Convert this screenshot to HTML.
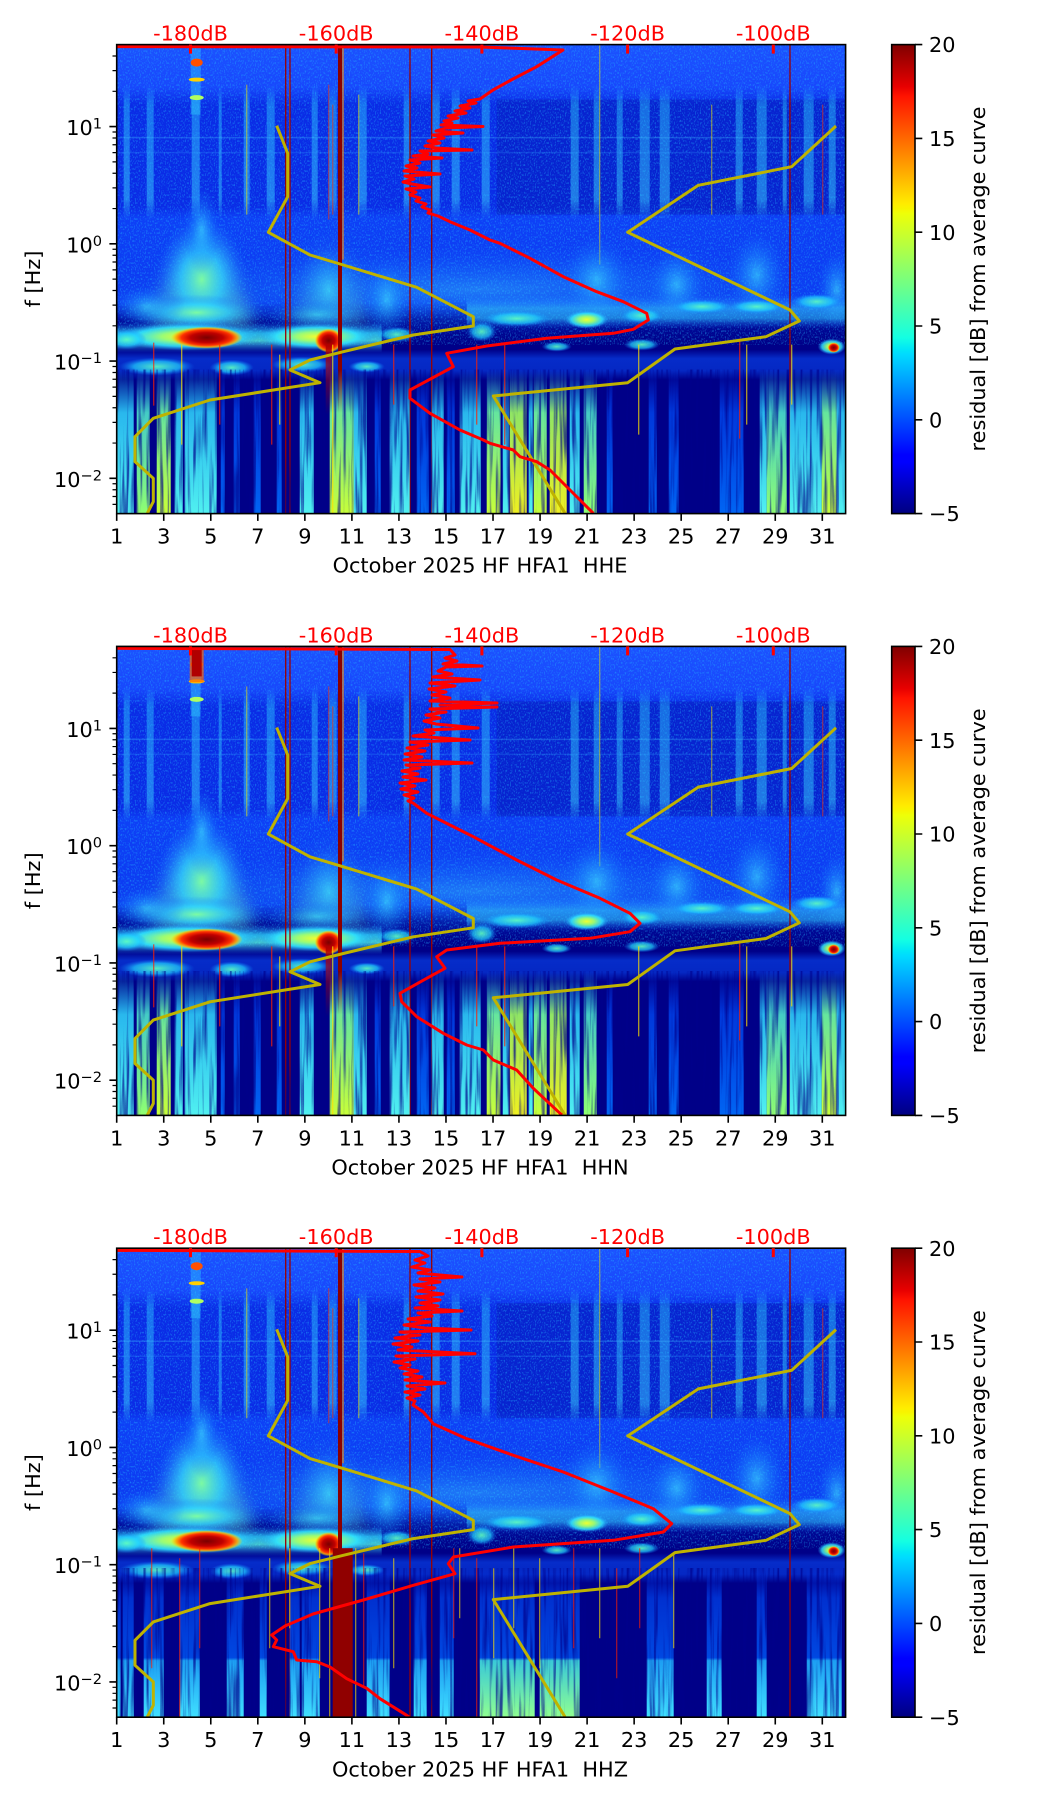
<!DOCTYPE html>
<html><head><meta charset="utf-8">
<style>
html,body{margin:0;padding:0;background:#fff;width:1052px;height:1806px;overflow:hidden}
svg{display:block}
text{font-family:"DejaVu Sans","Liberation Sans",sans-serif;font-size:20.83px;fill:#000}
.rt{fill:#ff0000}
</style></head><body>
<svg xmlns="http://www.w3.org/2000/svg" width="1052" height="1806" viewBox="0 0 1052 1806">
<defs>
<clipPath id="cl"><rect x="0" y="0" width="728.9" height="469"/></clipPath>
<clipPath id="ca"><rect x="116.7" y="44.6" width="728.9" height="469"/></clipPath>

<filter id="nzU" x="0" y="0" width="1" height="1" color-interpolation-filters="sRGB">
<feTurbulence type="fractalNoise" baseFrequency="0.8 0.5" numOctaves="1" seed="5"/>
<feColorMatrix type="matrix" values="0 0 0 0 0.15  0 0 0 0 0.75  0 0 0 0 1  3 0 0 0 -1.5"/>
</filter>
<filter id="nzV" x="0" y="0" width="1" height="1" color-interpolation-filters="sRGB">
<feTurbulence type="fractalNoise" baseFrequency="0.3 0.012" numOctaves="2" seed="9"/>
<feColorMatrix type="matrix" values="0 0 0 0 0  0 0 0 0 0  0 0 0 0 0.55  3.5 0 0 0 -1.65"/>
</filter>
<filter id="bl" x="-50%" y="-50%" width="200%" height="200%"><feGaussianBlur stdDeviation="9"/></filter>

<linearGradient id="gJet" x1="0" y1="1" x2="0" y2="0">
<stop offset="0" stop-color="#000080"/><stop offset="0.11" stop-color="#0000ff"/><stop offset="0.125" stop-color="#0000ff"/>
<stop offset="0.34" stop-color="#00dbff"/><stop offset="0.35" stop-color="#00e6f7"/><stop offset="0.375" stop-color="#14ffe2"/>
<stop offset="0.64" stop-color="#eeff08"/><stop offset="0.65" stop-color="#f7f500"/><stop offset="0.66" stop-color="#ffec00"/>
<stop offset="0.89" stop-color="#ff1300"/><stop offset="0.91" stop-color="#e80000"/><stop offset="1" stop-color="#800000"/>
</linearGradient>

<linearGradient id="gUp" x1="0" y1="0" x2="0" y2="1">
<stop offset="0" stop-color="#1c52ff"/><stop offset="0.14" stop-color="#1848fc"/><stop offset="0.2" stop-color="#0a2ce6"/>
<stop offset="0.54" stop-color="#0a2ce6"/><stop offset="0.58" stop-color="#0e40f6"/><stop offset="0.86" stop-color="#0c3af0"/>
<stop offset="0.92" stop-color="#000c9c"/><stop offset="1" stop-color="#000088"/>
</linearGradient>
<linearGradient id="gSt" gradientUnits="userSpaceOnUse" x1="0" y1="40" x2="0" y2="175">
<stop offset="0" stop-color="#30d8ff" stop-opacity="0"/><stop offset="0.15" stop-color="#30d8ff" stop-opacity="0.4"/>
<stop offset="0.85" stop-color="#40e0ff" stop-opacity="0.45"/><stop offset="1" stop-color="#40e0ff" stop-opacity="0"/>
</linearGradient>
<radialGradient id="gHz"><stop offset="0" stop-color="#80ffa0" stop-opacity="0.95"/><stop offset="0.45" stop-color="#30d8ff" stop-opacity="0.65"/><stop offset="1" stop-color="#1060ff" stop-opacity="0"/></radialGradient>
<radialGradient id="gHz2"><stop offset="0" stop-color="#40e8ff" stop-opacity="0.6"/><stop offset="0.5" stop-color="#20a0ff" stop-opacity="0.35"/><stop offset="1" stop-color="#1060ff" stop-opacity="0"/></radialGradient>
<radialGradient id="gBand"><stop offset="0" stop-color="#f0ff30"/><stop offset="0.35" stop-color="#a0ff70" stop-opacity="0.95"/><stop offset="0.7" stop-color="#30e8ff" stop-opacity="0.8"/><stop offset="1" stop-color="#20a0ff" stop-opacity="0"/></radialGradient>
<radialGradient id="gRed"><stop offset="0" stop-color="#7a0000"/><stop offset="0.45" stop-color="#c00000"/><stop offset="0.7" stop-color="#ff3000"/><stop offset="0.85" stop-color="#ffa000" stop-opacity="0.9"/><stop offset="1" stop-color="#ffe000" stop-opacity="0"/></radialGradient>
<radialGradient id="gCyB"><stop offset="0" stop-color="#60ffc0" stop-opacity="0.9"/><stop offset="0.6" stop-color="#20d0ff" stop-opacity="0.7"/><stop offset="1" stop-color="#1080ff" stop-opacity="0"/></radialGradient>
<linearGradient id="gBB" x1="0" y1="0" x2="0" y2="1"><stop offset="0" stop-color="#0a50ff" stop-opacity="0"/><stop offset="0.3" stop-color="#0a50ff" stop-opacity="0.55"/><stop offset="0.7" stop-color="#0a50ff" stop-opacity="0.5"/><stop offset="1" stop-color="#0a50ff" stop-opacity="0"/></linearGradient>
<linearGradient id="gBandV" x1="0" y1="0" x2="0" y2="1"><stop offset="0" stop-color="#20a0ff" stop-opacity="0"/><stop offset="0.35" stop-color="#30e0ff" stop-opacity="0.75"/><stop offset="0.6" stop-color="#50f0e0" stop-opacity="0.8"/><stop offset="1" stop-color="#20a0ff" stop-opacity="0"/></linearGradient>
<linearGradient id="gBandV2" x1="0" y1="0" x2="0" y2="1"><stop offset="0" stop-color="#2080ff" stop-opacity="0"/><stop offset="0.4" stop-color="#30c0ff" stop-opacity="0.6"/><stop offset="0.7" stop-color="#30c8ff" stop-opacity="0.55"/><stop offset="1" stop-color="#2080ff" stop-opacity="0"/></linearGradient>
<linearGradient id="gRc" x1="0" y1="0" x2="0" y2="1"><stop offset="0" stop-color="#b00000" stop-opacity="0.9"/><stop offset="1" stop-color="#b00000" stop-opacity="0"/></linearGradient>
<linearGradient id="gCone" x1="0" y1="0" x2="0" y2="1"><stop offset="0" stop-color="#30c0ff" stop-opacity="0"/><stop offset="0.45" stop-color="#50e8e0" stop-opacity="0.55"/><stop offset="1" stop-color="#80ffa0" stop-opacity="0.8"/></linearGradient>

<linearGradient id="sCy" gradientUnits="userSpaceOnUse" x1="0" y1="325" x2="0" y2="469"><stop offset="0" stop-color="#20c0ff" stop-opacity="0"/><stop offset="0.3" stop-color="#30d8ff" stop-opacity="0.85"/><stop offset="1" stop-color="#50f0f0"/></linearGradient>
<linearGradient id="sGr" gradientUnits="userSpaceOnUse" x1="0" y1="325" x2="0" y2="469"><stop offset="0" stop-color="#30d0ff" stop-opacity="0"/><stop offset="0.3" stop-color="#50f0d0" stop-opacity="0.85"/><stop offset="1" stop-color="#90ff70"/></linearGradient>
<linearGradient id="sYg" gradientUnits="userSpaceOnUse" x1="0" y1="325" x2="0" y2="469"><stop offset="0" stop-color="#30d0ff" stop-opacity="0"/><stop offset="0.3" stop-color="#70ffa0" stop-opacity="0.9"/><stop offset="1" stop-color="#c8ff38"/></linearGradient>
<linearGradient id="sYe" gradientUnits="userSpaceOnUse" x1="0" y1="325" x2="0" y2="469"><stop offset="0" stop-color="#30d0ff" stop-opacity="0"/><stop offset="0.3" stop-color="#a0ff60" stop-opacity="0.9"/><stop offset="1" stop-color="#f0f020"/></linearGradient>
<linearGradient id="sBl" gradientUnits="userSpaceOnUse" x1="0" y1="325" x2="0" y2="469"><stop offset="0" stop-color="#0040ff" stop-opacity="0"/><stop offset="0.3" stop-color="#0050ff" stop-opacity="0.7"/><stop offset="1" stop-color="#0070ff" stop-opacity="0.9"/></linearGradient>
<linearGradient id="s3" gradientUnits="userSpaceOnUse" x1="0" y1="320" x2="0" y2="469"><stop offset="0" stop-color="#0040ff" stop-opacity="0"/><stop offset="0.2" stop-color="#0050ff" stop-opacity="0.6"/><stop offset="0.6" stop-color="#0060ff" stop-opacity="0.75"/><stop offset="0.62" stop-color="#20b0ff" stop-opacity="0.9"/><stop offset="1" stop-color="#40e0ff"/></linearGradient>
<linearGradient id="s3g" gradientUnits="userSpaceOnUse" x1="0" y1="320" x2="0" y2="469"><stop offset="0" stop-color="#0040ff" stop-opacity="0"/><stop offset="0.2" stop-color="#0050ff" stop-opacity="0.6"/><stop offset="0.6" stop-color="#0060ff" stop-opacity="0.75"/><stop offset="0.62" stop-color="#40e0e0" stop-opacity="0.9"/><stop offset="1" stop-color="#90ff90"/></linearGradient>

<!-- upper background, local coords -->
<g id="bgU">
<rect width="729" height="469" fill="#000088"/>
<rect width="729" height="300" fill="url(#gUp)"/>
<rect x="380" y="55" width="349" height="115" fill="#000890" opacity="0.25"/>
<g fill="url(#gSt)">
<rect x="7" y="40" width="6" height="135"/><rect x="30" y="40" width="7" height="135"/><rect x="75" y="40" width="8" height="135"/>
<rect x="102" y="40" width="3" height="135"/><rect x="127" y="40" width="6" height="135"/><rect x="150" y="40" width="8" height="135"/>
<rect x="195" y="40" width="6" height="135"/><rect x="212" y="40" width="8" height="135"/><rect x="242" y="40" width="8" height="135"/>
<rect x="287" y="40" width="6" height="135"/><rect x="315" y="40" width="8" height="135"/><rect x="335" y="40" width="8" height="135"/>
<rect x="365" y="40" width="8" height="135"/><rect x="454" y="40" width="8" height="135"/><rect x="477" y="40" width="6" height="135"/>
<rect x="500" y="40" width="6" height="135"/><rect x="523" y="40" width="10" height="135"/><rect x="543" y="40" width="10" height="135"/>
<rect x="619" y="40" width="7" height="135"/><rect x="640" y="40" width="10" height="135"/><rect x="666" y="40" width="4" height="135"/>
<rect x="687" y="40" width="10" height="135"/><rect x="712" y="40" width="7" height="135"/>
</g>
<rect x="0" y="0" width="729" height="300" filter="url(#nzU)" opacity="0.55"/>
<rect x="74" y="0" width="10" height="70" fill="#30d0ff" opacity="0.4"/>
<ellipse cx="80" cy="18" rx="6" ry="4" fill="#ff5000"/>
<ellipse cx="80" cy="35" rx="8" ry="2" fill="#ffd000"/>
<ellipse cx="80" cy="53" rx="7" ry="2.5" fill="#b0ff60"/>
<path d="M0 93H729" stroke="#40c0ff" stroke-width="1.5" opacity="0.3"/>
<path d="M0 108H729" stroke="#30a0ff" stroke-width="1.5" opacity="0.25"/>
<g stroke-width="1.3" opacity="0.5">
<path d="M130 40V170M173 30V175M242 50V170M483 0V220M595 60V170" stroke="#f0e000"/>
<path d="M212 40V175M216 60V170M706 60V170" stroke="#ff3000"/>
</g>
<!-- haze -->
<ellipse cx="360" cy="245" rx="380" ry="45" fill="url(#gHz2)" opacity="0.6"/>
<path d="M72 175 L98 175 L135 282 L35 282 Z" fill="url(#gCone)" opacity="0.75" filter="url(#bl)"/>
<ellipse cx="85" cy="235" rx="46" ry="62" fill="url(#gHz)"/>
<ellipse cx="85" cy="185" rx="18" ry="45" fill="url(#gHz2)"/>
<ellipse cx="80" cy="268" rx="70" ry="18" fill="url(#gHz)"/>
<path d="M200 190 L225 190 L250 282 L178 282 Z" fill="url(#gCone)" opacity="0.45" filter="url(#bl)"/>
<ellipse cx="212" cy="245" rx="32" ry="45" fill="url(#gHz2)"/>
<ellipse cx="200" cy="270" rx="55" ry="15" fill="url(#gHz2)"/>
<ellipse cx="30" cy="262" rx="38" ry="22" fill="url(#gHz2)"/>
<ellipse cx="270" cy="255" rx="25" ry="40" fill="url(#gHz2)"/>
<ellipse cx="480" cy="235" rx="35" ry="45" fill="url(#gHz2)"/>
<ellipse cx="560" cy="240" rx="30" ry="40" fill="url(#gHz2)"/>
<ellipse cx="640" cy="230" rx="30" ry="45" fill="url(#gHz2)"/>
<ellipse cx="720" cy="245" rx="20" ry="40" fill="url(#gHz2)"/>
<!-- band -->
<rect x="0" y="305" width="729" height="30" fill="url(#gBB)"/>
<rect x="0" y="278" width="265" height="30" fill="url(#gBandV)"/>
<rect x="350" y="250" width="379" height="34" fill="url(#gBandV2)"/>
<ellipse cx="70" cy="292" rx="72" ry="14" fill="url(#gBand)"/>
<ellipse cx="10" cy="295" rx="20" ry="10" fill="url(#gCyB)"/>
<ellipse cx="90" cy="293" rx="36" ry="11" fill="url(#gRed)"/>
<ellipse cx="200" cy="292" rx="58" ry="13" fill="url(#gBand)"/>
<ellipse cx="212" cy="296" rx="14" ry="12" fill="url(#gRed)"/>
<ellipse cx="280" cy="290" rx="20" ry="8" fill="url(#gCyB)"/>
<ellipse cx="365" cy="287" rx="15" ry="10" fill="url(#gCyB)"/>
<ellipse cx="400" cy="274" rx="35" ry="8" fill="url(#gCyB)"/>
<ellipse cx="470" cy="275" rx="22" ry="9" fill="url(#gBand)"/>
<ellipse cx="525" cy="271" rx="22" ry="8" fill="url(#gCyB)"/>
<ellipse cx="585" cy="262" rx="30" ry="7" fill="url(#gCyB)"/>
<ellipse cx="640" cy="262" rx="28" ry="7" fill="url(#gCyB)"/>
<ellipse cx="700" cy="257" rx="25" ry="8" fill="url(#gCyB)"/>
<ellipse cx="525" cy="300" rx="18" ry="6" fill="url(#gCyB)"/>
<ellipse cx="440" cy="302" rx="15" ry="5" fill="url(#gCyB)"/>
<ellipse cx="715" cy="302" rx="14" ry="8" fill="url(#gBand)"/>
<ellipse cx="717" cy="303" rx="6" ry="5" fill="url(#gRed)"/>
<ellipse cx="40" cy="322" rx="38" ry="9" fill="url(#gCyB)"/>
<ellipse cx="115" cy="323" rx="22" ry="8" fill="url(#gCyB)"/>
<ellipse cx="185" cy="320" rx="30" ry="8" fill="url(#gCyB)"/>
<ellipse cx="250" cy="322" rx="18" ry="6" fill="url(#gCyB)"/>
<!-- vertical dark red lines -->
<path d="M169 0V469M173.3 0V469M293.3 0V469M315 0V469M673.3 0V469" stroke="#9a0000" stroke-width="1.3"/>
<path d="M223.3 0V469" stroke="#8a0000" stroke-width="4"/>
<path d="M226.3 0V215" stroke="#ff9000" stroke-width="1.6" opacity="0.7"/>
</g>

<g id="low1">
<rect x="0" y="325" width="17" height="144" fill="url(#sCy)"/>
<rect x="20" y="325" width="13" height="144" fill="url(#sGr)"/>
<rect x="40" y="325" width="14" height="144" fill="url(#sYg)"/>
<rect x="58" y="325" width="8" height="144" fill="url(#sCy)"/>
<rect x="68" y="325" width="32" height="144" fill="url(#sCy)"/>
<rect x="104" y="325" width="4" height="144" fill="url(#sBl)"/>
<rect x="117" y="325" width="6" height="144" fill="url(#sBl)"/>
<rect x="137" y="325" width="7" height="144" fill="url(#sBl)"/>
<rect x="160" y="325" width="5" height="144" fill="url(#sBl)"/>
<rect x="183" y="325" width="14" height="144" fill="url(#sCy)"/>
<rect x="213" y="325" width="24" height="144" fill="url(#sYg)"/>
<rect x="237" y="325" width="13" height="144" fill="url(#sCy)"/>
<rect x="258" y="325" width="6" height="144" fill="url(#sBl)"/>
<rect x="273" y="325" width="20" height="144" fill="url(#sCy)"/>
<rect x="300" y="325" width="12" height="144" fill="url(#sBl)"/>
<rect x="315" y="325" width="12" height="144" fill="url(#sCy)"/>
<rect x="330" y="325" width="8" height="144" fill="url(#sBl)"/>
<rect x="343" y="325" width="21" height="144" fill="url(#sCy)"/>
<rect x="370" y="325" width="14" height="144" fill="url(#sYg)"/>
<rect x="386" y="325" width="6" height="144" fill="url(#sCy)"/>
<rect x="393" y="325" width="17" height="144" fill="url(#sYe)"/>
<rect x="412" y="325" width="4" height="144" fill="url(#sCy)"/>
<rect x="417" y="325" width="13" height="144" fill="url(#sYg)"/>
<rect x="433" y="325" width="17" height="144" fill="url(#sYe)"/>
<rect x="453" y="325" width="10" height="144" fill="url(#sCy)"/>
<rect x="467" y="325" width="13" height="144" fill="url(#sGr)"/>
<rect x="490" y="325" width="6" height="144" fill="url(#sBl)"/>
<rect x="532" y="325" width="8" height="144" fill="url(#sBl)"/>
<rect x="552" y="325" width="10" height="144" fill="url(#sBl)"/>
<rect x="603" y="325" width="24" height="144" fill="url(#sBl)"/>
<rect x="643" y="325" width="7" height="144" fill="url(#sCy)"/>
<rect x="650" y="325" width="20" height="144" fill="url(#sGr)"/>
<rect x="673" y="325" width="32" height="144" fill="url(#sCy)"/>
<rect x="705" y="325" width="15" height="144" fill="url(#sYg)"/>
<rect x="720" y="325" width="9" height="144" fill="url(#sCy)"/>
<rect x="0" y="325" width="729" height="144" filter="url(#nzV)" opacity="0.7"/>
<rect x="209" y="300" width="6" height="70" fill="url(#gRc)"/>
<g stroke-width="1.3" opacity="0.7">
<path d="M37 298V361M103 300V380M155 300V400M277 300V360M360 300V380M388 300V400M623 294V394" stroke="#ff2000"/>
<path d="M65 300V400M163 310V380M522 300V390M630 300V380M675 300V360M216 300V469" stroke="#ffe000"/>
</g>
</g>

<g id="low3">
<rect x="0" y="320" width="4" height="149" fill="url(#s3)"/>
<rect x="6" y="320" width="11" height="149" fill="url(#s3)"/>
<rect x="27" y="320" width="20" height="149" fill="url(#s3)"/>
<rect x="63" y="320" width="20" height="149" fill="url(#s3)"/>
<rect x="110" y="320" width="17" height="149" fill="url(#s3)"/>
<rect x="143" y="320" width="7" height="149" fill="url(#s3)"/>
<rect x="173" y="320" width="10" height="149" fill="url(#s3)"/>
<rect x="185" y="320" width="18" height="149" fill="url(#s3)"/>
<rect x="250" y="320" width="23" height="149" fill="url(#s3)"/>
<rect x="297" y="320" width="13" height="149" fill="url(#s3)"/>
<rect x="323" y="320" width="14" height="149" fill="url(#s3)"/>
<rect x="363" y="320" width="55" height="149" fill="url(#s3g)"/>
<rect x="423" y="320" width="40" height="149" fill="url(#s3g)"/>
<rect x="530" y="320" width="27" height="149" fill="url(#s3)"/>
<rect x="590" y="320" width="15" height="149" fill="url(#s3)"/>
<rect x="640" y="320" width="10" height="149" fill="url(#s3)"/>
<rect x="690" y="320" width="35" height="149" fill="url(#s3)"/>
<rect x="0" y="320" width="729" height="149" filter="url(#nzV)" opacity="0.7"/>
<rect x="216" y="300" width="20" height="169" fill="#900000"/>
<g stroke-width="1.2" opacity="0.65">
<path d="M35 300V420M63 310V469M83 300V400M247 305V440M337 300V390M360 310V469M457 300V400M500 320V430M523 300V380" stroke="#ff2000"/>
<path d="M153 310V400M173 300V380M203 300V430M213 300V469M239 300V469M277 310V420M343 300V370M377 320V410M397 300V380M423 310V420M483 300V390M557 305V400" stroke="#ffe000"/>
</g>
</g>

<g id="yc" fill="none" stroke="#bfb300" stroke-width="3" stroke-linejoin="round">
<polyline points="276.7,125.7 287.7,153.3 287.7,196.7 268.3,232.3 310,255 340,264 416.7,287.3 473.3,316.7 473.3,326 413.3,335 343.3,351.7 310,360 290,370 320,382.7 210,400 153.3,418.3 135,436.7 135,461.7 153.3,478.3 153.3,501.7 147.3,513.3"/>
<polyline points="836,126 791.7,166.7 698.3,185.3 627.7,232.3 790,310 799.3,321 766,336.7 675,349 627.7,382.7 493.3,396 565,513.3"/>
</g>

<g id="ax">
<rect x="116.7" y="44.6" width="728.9" height="469" fill="none" stroke="#000" stroke-width="1.6"/>
<path stroke="#000" stroke-width="1.6" d="M116.7 513.6v7.3M163.74 513.6v7.3M210.78 513.6v7.3M257.82 513.6v7.3M304.86 513.6v7.3M351.9 513.6v7.3M398.94 513.6v7.3M445.98 513.6v7.3M493.02 513.6v7.3M540.06 513.6v7.3M587.1 513.6v7.3M634.14 513.6v7.3M681.18 513.6v7.3M728.22 513.6v7.3M775.26 513.6v7.3M822.3 513.6v7.3M109.4 126.6h7.3M109.4 243.85h7.3M109.4 361.1h7.3M109.4 478.35h7.3"/>
<path stroke="#000" stroke-width="1.2" d="M112.5 91.31h4.2M112.5 70.66h4.2M112.5 56.01h4.2M112.5 208.56h4.2M112.5 187.91h4.2M112.5 173.26h4.2M112.5 161.9h4.2M112.5 152.62h4.2M112.5 144.76h4.2M112.5 137.97h4.2M112.5 131.97h4.2M112.5 325.81h4.2M112.5 305.16h4.2M112.5 290.51h4.2M112.5 279.15h4.2M112.5 269.87h4.2M112.5 262.01h4.2M112.5 255.22h4.2M112.5 249.22h4.2M112.5 443.06h4.2M112.5 422.41h4.2M112.5 407.76h4.2M112.5 396.4h4.2M112.5 387.12h4.2M112.5 379.26h4.2M112.5 372.47h4.2M112.5 366.47h4.2M112.5 504.37h4.2M112.5 496.51h4.2M112.5 489.72h4.2M112.5 483.72h4.2"/>
<g text-anchor="middle">
<text x="116.7" y="543.6">1</text><text x="163.74" y="543.6">3</text><text x="210.78" y="543.6">5</text><text x="257.82" y="543.6">7</text>
<text x="304.86" y="543.6">9</text><text x="351.9" y="543.6">11</text><text x="398.94" y="543.6">13</text><text x="445.98" y="543.6">15</text>
<text x="493.02" y="543.6">17</text><text x="540.06" y="543.6">19</text><text x="587.1" y="543.6">21</text><text x="634.14" y="543.6">23</text>
<text x="681.18" y="543.6">25</text><text x="728.22" y="543.6">27</text><text x="775.26" y="543.6">29</text><text x="822.3" y="543.6">31</text>
</g>
<g text-anchor="end">
<text x="102" y="135">10<tspan font-size="14.6" dy="-6.5">1</tspan></text>
<text x="102" y="252.25">10<tspan font-size="14.6" dy="-6.5">0</tspan></text>
<text x="102" y="369.5">10<tspan font-size="14.6" dy="-6.5">−1</tspan></text>
<text x="102" y="486.75">10<tspan font-size="14.6" dy="-6.5">−2</tspan></text>
</g>
<text transform="translate(40,279) rotate(-90)" text-anchor="middle">f [Hz]</text>
<rect x="891.7" y="44.6" width="23.3" height="469" fill="url(#gJet)" stroke="#000" stroke-width="1.6"/>
<path stroke="#000" stroke-width="1.6" d="M915 44.6h7.3M915 138.4h7.3M915 232.2h7.3M915 326h7.3M915 419.8h7.3M915 513.6h7.3"/>
<text x="929" y="52.2">20</text><text x="929" y="146">15</text><text x="929" y="239.8">10</text>
<text x="929" y="333.6">5</text><text x="929" y="427.4">0</text><text x="929" y="521.2">−5</text>
<text transform="translate(985,279) rotate(-90)" text-anchor="middle">residual [dB] from average curve</text>
<g text-anchor="middle">
<text class="rt" x="190.5" y="40.5">-180dB</text><text class="rt" x="336.2" y="40.5">-160dB</text>
<text class="rt" x="481.9" y="40.5">-140dB</text><text class="rt" x="627.6" y="40.5">-120dB</text>
<text class="rt" x="773.3" y="40.5">-100dB</text>
</g>
<g fill="#ff0000">
<rect x="189" y="44.6" width="3" height="9"/><rect x="334.7" y="44.6" width="3" height="9"/><rect x="480.4" y="44.6" width="3" height="9"/>
<rect x="626.1" y="44.6" width="3" height="9"/><rect x="771.8" y="44.6" width="3" height="9"/>
</g>
</g>
</defs>

<rect width="1052" height="1806" fill="#fff"/>

<!-- Panel 1 -->
<g>
<g transform="translate(116.7,44.6)" clip-path="url(#cl)">
<use href="#bgU"/><use href="#low1"/>
</g>
<g clip-path="url(#ca)"><use href="#yc"/></g>
<polyline fill="none" stroke="#ff0000" stroke-width="3" stroke-linejoin="round" points="116.7,46.6 480,47 563,50 536.7,66.7 513,79 493,90 480,99 468,101 476,103 460,106 470,108 455,111 466,113 448,116 458,118 444,121 452,123 441,125 483,126.5 446,128 436,131 463,133 433,135 444,138 428,141 440,143 425,146 436,148 472,150 420,151 428,154 413,156 442,158 410,160 420,163 406,166 417,168 404,171 440,174 405,176 414,179 403,182 412,184 430,187 406,189 416,192 410,195 420,198 416,201 426,204 422,207 430,210 428,213 438,216 450,221.7 470,230 490,240 500,243.3 530,258.3 563.3,276.7 596.7,291.7 623.3,301.7 646.7,313.3 648.3,320 633.3,329.3 613.3,333.3 546.7,338.3 486.7,346 446.7,353.3 453.3,366.7 410,390 410,398.3 430,413.3 460,430 483.3,440 490,443.3 513.3,450 520,456.7 536.7,461.7 550,470 560,480 580,500 593.3,513.3"/>
<use href="#ax"/>
<text x="480" y="572.7" text-anchor="middle" style="white-space:pre">October 2025 HF HFA1  HHE</text>
</g>

<!-- Panel 2 -->
<g transform="translate(0,601.8)">
<g transform="translate(116.7,44.6)" clip-path="url(#cl)">
<use href="#bgU"/><use href="#low1"/>
<rect x="73" y="0" width="14" height="36" fill="#ff6000" opacity="0.7"/>
<rect x="75" y="0" width="10" height="30" fill="#b00000"/>
</g>
<g clip-path="url(#ca)"><use href="#yc"/></g>
<g transform="translate(0,-601.8)">
<polyline fill="none" stroke="#ff0000" stroke-width="3" stroke-linejoin="round" points="116.7,648.3 450,649.5 455,655 445,658 457,661 443,664 482,666 446,667 438,671 452,674 433,677 480,680 430,683 455,686 429,689 446,692 432,695 450,698 430,701 497,703 440,705 497,707 430,709 446,712 426,715 440,718 424,721 436,724 478,728 425,730 434,733 413,736 470,740 410,742 428,745 407,748 425,751 405,754 422,757 404,760 472,763 406,765 420,768 402,771 418,774 403,777 426,780 400,783 415,786 401,789 418,792 404,795 414,798 408,801 413,803 426.7,813.3 450,825 473.3,836.7 516.7,860 556.7,880 600,898.3 630,913.3 640,923.3 630,931.7 590,938.3 500,943.3 446.7,950 436.7,956.7 445,968.3 426.7,978.3 400,993.3 401.7,1001.7 416.7,1016.7 443.3,1033.3 466.7,1045 483.3,1050 493.3,1060 516.7,1070 533.3,1088.3 560,1113.3 562,1115"/>
</g>
<use href="#ax"/>
<text x="480" y="572.7" text-anchor="middle" style="white-space:pre">October 2025 HF HFA1  HHN</text>
</g>

<!-- Panel 3 -->
<g transform="translate(0,1203.6)">
<g transform="translate(116.7,44.6)" clip-path="url(#cl)">
<use href="#bgU"/><use href="#low3"/>
</g>
<g clip-path="url(#ca)"><use href="#yc"/></g>
<g transform="translate(0,-1203.6)">
<polyline fill="none" stroke="#ff0000" stroke-width="3" stroke-linejoin="round" points="116.7,1250.4 420,1251.5 428,1256 415,1260 425,1263 412,1267 430,1270 418,1273 462,1277 420,1279 440,1282 414,1285 435,1288 418,1291 443,1294 416,1297 440,1300 420,1303 438,1306 415,1308 462,1311 418,1313 432,1316 408,1319 430,1322 404,1325 425,1328 471,1330 400,1332 420,1335 395,1338 418,1341 393,1344 412,1347 398,1350 475,1353.7 396,1356 415,1359 394,1362 410,1365 400,1368 418,1371 404,1374 422,1377 405,1380 445,1383 407,1386 425,1389 405,1392 420,1395 407,1398 415,1401 413,1405 423.3,1412 433.3,1423.7 466.7,1438.7 513.3,1455.3 563.3,1472 613.3,1492 653.3,1508.7 671.7,1523.7 663.3,1532 613.3,1540.3 513.3,1547 453.3,1557 448.3,1563.7 455,1573.7 413.3,1585.3 363.3,1600 313,1614 285,1626 271.7,1635 276.7,1640 273.3,1646.7 293.3,1651.7 296.7,1660 316.7,1661.7 330,1667 346.7,1678.7 366.7,1688.3 380,1698.7 406.7,1715.3 409,1717"/>
</g>
<use href="#ax"/>
<text x="480" y="572.7" text-anchor="middle" style="white-space:pre">October 2025 HF HFA1  HHZ</text>
</g>
</svg>
</body></html>
